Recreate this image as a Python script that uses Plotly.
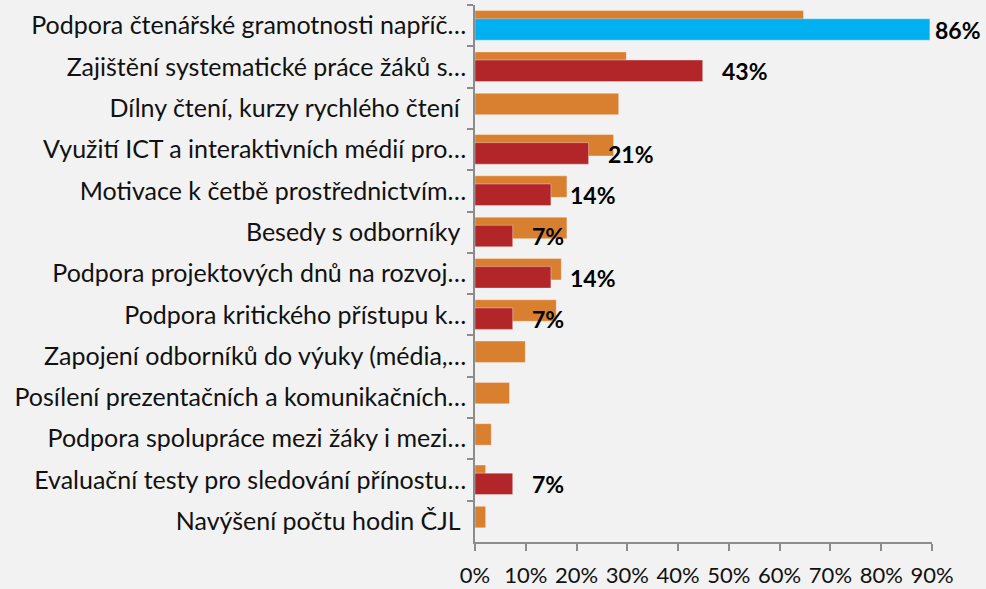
import plotly.graph_objects as go

categories = [
    "Podpora čtenářské gramotnosti napříč…",
    "Zajištění systematické práce žáků s…",
    "Dílny čtení, kurzy rychlého čtení\u00a0",
    "Využití ICT a interaktivních médií pro…",
    "Motivace k četbě prostřednictvím…",
    "Besedy s odborníky\u00a0",
    "Podpora projektových dnů na rozvoj…",
    "Podpora kritického přístupu k…",
    "Zapojení odborníků do výuky (média,…",
    "Posílení prezentačních a komunikačních…",
    "Podpora spolupráce mezi žáky i mezi…",
    "Evaluační testy pro sledování přínostu…",
    "Navýšení počtu hodin ČJL\u00a0",
]

orange_values = [0.647, 0.298, 0.283, 0.273, 0.181, 0.181, 0.170, 0.160, 0.099, 0.068, 0.032, 0.021, 0.021]
red_values = [0.857, 0.429, None, 0.214, 0.143, 0.071, 0.143, 0.071, None, None, None, 0.071, None]

x_tick_values = [0, 0.1, 0.2, 0.3, 0.4, 0.5, 0.6, 0.7, 0.8, 0.9]
x_tick_labels = ["0%", "10%", "20%", "30%", "40%", "50%", "60%", "70%", "80%", "90%"]

ORANGE = "#D97F30"
RED = "#B22529"
BLUE = "#00B0F0"
BG = "#F2F2F2"
FONT = "Lato"

red_colors = [BLUE if i == 0 else RED for i in range(len(categories))]

fig = go.Figure()
fig.add_trace(go.Bar(
    y=categories, x=orange_values, orientation="h",
    marker=dict(color=ORANGE, line=dict(color="rgba(255,255,255,0.35)", width=1)),
    width=0.52, offset=-0.364, xaxis="x", yaxis="y", hoverinfo="x+y",
))
fig.add_trace(go.Bar(
    y=categories, x=red_values, orientation="h",
    marker=dict(color=red_colors, line=dict(color="rgba(255,255,255,0.35)", width=1)),
    width=0.52, offset=-0.167, xaxis="x2", yaxis="y", hoverinfo="x+y",
))

annotations = []
for cat, v in zip(categories, red_values):
    if v is None:
        continue
    annotations.append(dict(
        x=v, y=cat, xref="x2", yref="y", xanchor="left", yanchor="middle",
        text=f"{round(v * 100)}%", showarrow=False,
        xshift=3 if v > 0.8 else 17, yshift=-4,
        font=dict(family=FONT, size=23, color="#000000", weight="bold"),
    ))

fig.update_layout(
    width=986, height=589,
    margin=dict(l=475, r=54, t=5, b=47),
    paper_bgcolor=BG, plot_bgcolor=BG,
    barmode="overlay", showlegend=False,
    font=dict(family=FONT, size=25, color="#111111"),
    annotations=annotations,
    xaxis=dict(
        range=[0, 0.9], tickvals=x_tick_values, ticktext=x_tick_labels,
        showgrid=False, zeroline=False, showline=True, linecolor="#8C8C8C", linewidth=1.5,
        ticks="outside", ticklen=7, tickcolor="#8C8C8C", tickwidth=1.5,
        tickangle=0, automargin=False,
        ticklabelstandoff=6, tickfont=dict(size=22, color="#111111"),
    ),
    xaxis2=dict(range=[0, 0.861], overlaying="x", side="top", visible=False),
    yaxis=dict(
        autorange="reversed", type="category", tickson="boundaries",
        showgrid=False, zeroline=False, showline=True, linecolor="#8C8C8C", linewidth=1.5,
        ticks="outside", ticklen=6, tickcolor="#8C8C8C", tickwidth=1.5,
        automargin=False,
        ticklabelstandoff=2, tickfont=dict(size=25, color="#111111"),
    ),
)

fig.write_html(
    "out.html",
    config={"displayModeBar": False},
    post_script="document.body.style.margin='0';document.body.style.background='#F2F2F2';document.body.style.overflow='hidden';",
)
